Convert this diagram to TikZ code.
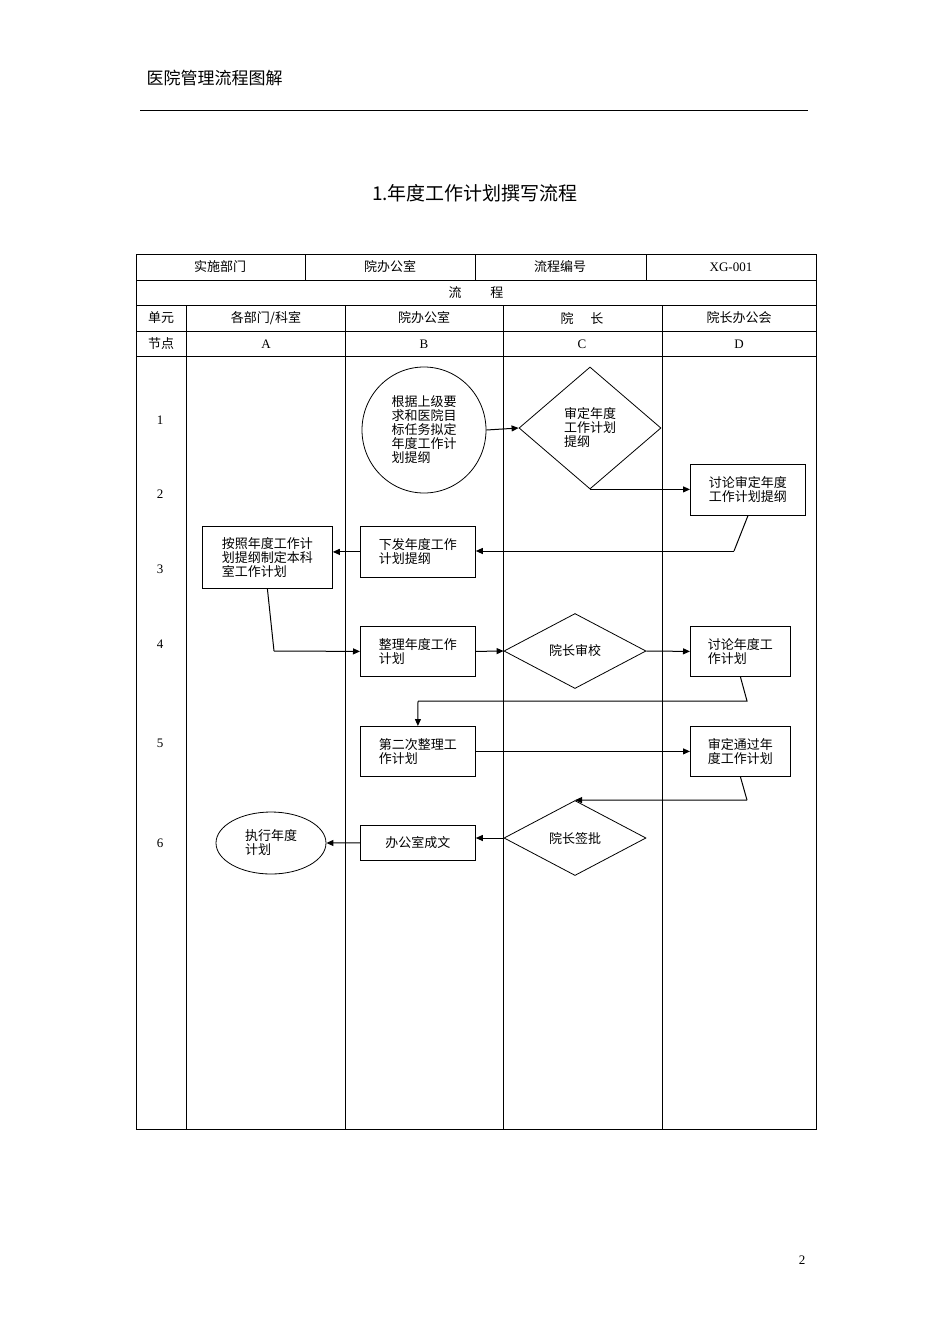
\documentclass[tikz,border=0pt]{standalone}
\usepackage{fontspec}
\setmainfont{Noto Sans CJK SC}
\newfontfamily\lat{Liberation Serif}
\usetikzlibrary{arrows.meta,shapes.geometric}
\begin{document}
\begin{tikzpicture}[x=1pt,y=-1pt,
  t/.style={font=\fontsize{13}{15}\selectfont},
  bx/.style={draw,line width=0.8pt,inner sep=2pt,font=\fontsize{13}{14}\selectfont,align=left,anchor=north west},
  dm/.style={draw,line width=0.8pt,diamond,inner sep=0pt,font=\fontsize{13}{14}\selectfont,align=left},
  ar/.style={line width=1pt,-{Triangle[length=7pt,width=6pt]}},
  ln/.style={line width=1pt}]
\useasboundingbox (0,0) rectangle (950,1344);
\node[anchor=west,font=\fontsize{17}{20}\selectfont] (hd) at (143,78) {医院管理流程图解};
\draw[line width=0.8pt] (140,110) -- (808,110);
\node[font=\fontsize{19}{22}\selectfont] (ti) at (475,193) {1.年度工作计划撰写流程};
\node[font=\lat\fontsize{13}{15}\selectfont] (pg) at (802,1260) {2};
% table
\draw[line width=0.8pt] (136,254) rectangle (816,1129);
\foreach \y in {280,305,331,356} \draw[line width=0.6pt] (136,\y) -- (816,\y);
\foreach \x in {305,475,646} \draw[line width=0.6pt] (\x,254) -- (\x,280);
\draw[line width=0.6pt] (186,305) -- (186,1129);
\foreach \x in {345,503,662} \draw[line width=0.6pt] (\x,305) -- (\x,1129);
\node[t] at (220,267) {实施部门};
\node[t] at (390,267) {院办公室};
\node[t] at (560,267) {流程编号};
\node[t,font=\lat\fontsize{13}{15}\selectfont] at (731,267) {XG-001};
\node[t] at (476,293) {流\hspace{2.2em}程};
\node[t] at (161,318) {单元};
\node[t] at (266,318) {各部门/科室};
\node[t] at (424,318) {院办公室};
\node[t] at (582,318) {院\hspace{1.3em}长};
\node[t] at (739,318) {院长办公会};
\node[t] at (161,344) {节点};
\foreach \l/\x in {A/266,B/424,C/582,D/739} \node[t,font=\lat\fontsize{13}{15}\selectfont] at (\x,344) {\l};
\foreach \n/\y in {1/420,2/494,3/569,4/644,5/743,6/843} \node[t,font=\lat\fontsize{13}{15}\selectfont] at (160,\y) {\n};
% nodes
\node[draw,line width=0.8pt,ellipse,minimum width=124pt,minimum height=126pt,inner sep=0pt,align=left,font=\fontsize{13}{14}\selectfont] (b1) at (424,430) {根据上级要\\求和医院目\\标任务拟定\\年度工作计\\划提纲};
\node[dm,minimum width=142pt,minimum height=122pt] (c1) at (590,428) {审定年度\\工作计划\\提纲};
\node[bx,minimum width=115pt,minimum height=51pt] (d2) at (690,464) {讨论审定年度\\工作计划提纲};
\node[bx,minimum width=115pt,minimum height=51pt] (b3) at (360,526) {下发年度工作\\计划提纲};
\node[bx,minimum width=130pt,minimum height=62pt] (a3) at (202,526) {按照年度工作计\\划提纲制定本科\\室工作计划};
\node[bx,minimum width=115pt,minimum height=50pt] (b4) at (360,626) {整理年度工作\\计划};
\node[dm,minimum width=142pt,minimum height=75pt] (c4) at (575,651) {院长审校};
\node[bx,minimum width=100pt,minimum height=50pt] (d4) at (690,626) {讨论年度工\\作计划};
\node[bx,minimum width=115pt,minimum height=50pt] (b5) at (360,726) {第二次整理工\\作计划};
\node[bx,minimum width=100pt,minimum height=50pt] (d5) at (690,726) {审定通过年\\度工作计划};
\node[dm,minimum width=142pt,minimum height=75pt] (c6) at (575,838) {院长签批};
\node[bx,minimum width=115pt,minimum height=35pt] (b6) at (360,825) {办公室成文};
\node[draw,line width=0.8pt,ellipse,minimum width=110pt,minimum height=62pt,inner sep=0pt,align=left,font=\fontsize{13}{14}\selectfont] (a6) at (271,843) {执行年度\\计划};
\coordinate (k1) at (734,551);
\coordinate (k2) at (274,651);
\coordinate (k3) at (747,701);
\coordinate (k4) at (418,701);
\coordinate (k5) at (747,800);
% connectors
\draw[ar] (b1.east) -- (c1.west);
\draw[ar] (c1.south) -- (d2.west|-c1.south);
\draw[ln] (d2.south) -- (k1);
\draw[ar] (k1) -- (b3.east|-k1);
\draw[ar] (b3.west) -- (a3.east|-b3.west);
\draw[ln] (a3.south) -- (k2);
\draw[ar] (k2) -- (b4.west);
\draw[ar] (b4.east) -- (c4.west);
\draw[ar] (c4.east) -- (d4.west);
\draw[ln] (d4.south) -- (k3) -- (k4);
\draw[ar] (k4) -- (b5.north);
\draw[ar] (b5.east) -- (d5.west);
\draw[ln] (d5.south) -- (k5);
\draw[ar] (k5) -- (c6.north);
\draw[ar] (c6.west) -- (b6.east|-c6.west);
\draw[ar] (b6.west) -- (a6.east);
\end{tikzpicture}
\end{document}
